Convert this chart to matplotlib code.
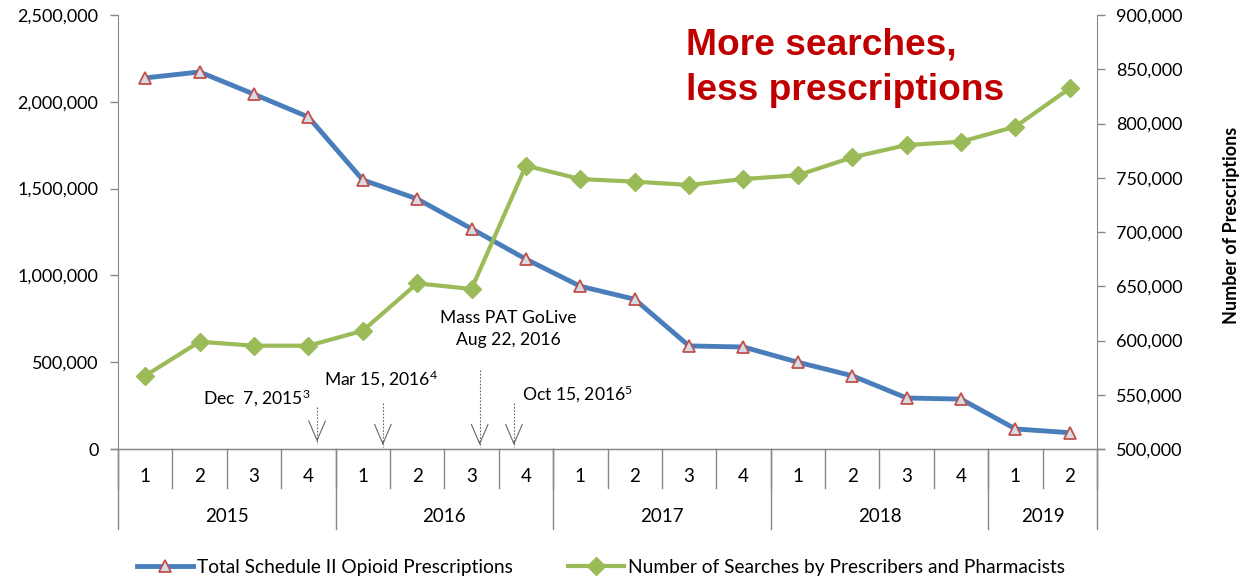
import numpy as np
import matplotlib.pyplot as plt
from matplotlib.ticker import FuncFormatter
import matplotlib.transforms as mtransforms

plt.rcParams['font.family'] = ['Lato', 'DejaVu Sans']
plt.rcParams['mathtext.fontset'] = 'custom'
plt.rcParams['mathtext.rm'] = 'Lato'
plt.rcParams['mathtext.default'] = 'rm'

# data
years = ['2015', '2016', '2017', '2018', '2019']
quarters_per_year = [4, 4, 4, 4, 2]
quarters = ['1', '2', '3', '4'] * 4 + ['1', '2']
prescriptions = [842000, 847500, 827000, 806000, 748000, 730500, 703000, 675000, 650000,
                 638000, 595000, 594000, 580000, 567500, 547000, 546000, 518500, 515000]
searches = [422000, 618000, 595000, 595000, 681000, 954000, 922000, 1632000, 1555000,
            1540000, 1521000, 1555000, 1577000, 1680000, 1751000, 1770000, 1857000, 2078000]
events = ['Dec  7, 2015$^3$', 'Mar 15, 2016$^4$', 'Mass PAT GoLive\nAug 22, 2016', 'Oct 15, 2016$^5$']
event_pos = [3.16, 4.37, 6.15, 6.78]

axis_col = '#888888'
blue = '#4A7EBB'
green = '#9BBB59'

fig = plt.figure(figsize=(12.39, 5.78), dpi=100)
ax = fig.add_axes([118/1239, 1-449/578, (1097-118)/1239, 434/578])
ax2 = ax.twinx()

x = np.arange(len(quarters))
ax.plot(x, searches, color=green, lw=3, marker='D', ms=9, mec=green, mfc=green,
        label='Number of Searches by Prescribers and Pharmacists', zorder=3)
ax2.plot(x, prescriptions, color=blue, lw=3.5, marker='^', ms=8, mec='#C0504D', mfc='#D6DCE5',
         mew=1.3, label='Total Schedule II Opioid Prescriptions', zorder=3)

ax.set_zorder(ax2.get_zorder() + 1)
ax.patch.set_visible(False)

ax.set_xlim(-0.5, len(quarters) - 0.5)
ax.set_ylim(0, 2500000)
ax2.set_ylim(500000, 900000)
ax.set_yticks(np.arange(0, 2500001, 500000))
ax2.set_yticks(np.arange(500000, 900001, 50000))
fmt = FuncFormatter(lambda v, p: f'{int(v):,}')
ax.yaxis.set_major_formatter(fmt)
ax2.yaxis.set_major_formatter(fmt)

for a in (ax, ax2):
    for s in a.spines.values():
        s.set_color(axis_col)
    a.spines['top'].set_visible(False)
    a.tick_params(axis='y', colors=axis_col, labelcolor='black', labelsize=13, length=6, width=1)
ax.spines['right'].set_visible(False)
ax2.spines['left'].set_visible(False)
ax2.spines['bottom'].set_visible(False)
ax.tick_params(axis='y', pad=8)
ax2.tick_params(axis='y', pad=8)

# category axis (two levels)
ax.set_xticks(x)
ax.set_xticklabels(quarters, fontsize=13.5)
ax.tick_params(axis='x', length=0, pad=14)
trans = mtransforms.blended_transform_factory(ax.transData, ax.transAxes)
q_low = -(488 - 449) / 434
y_low = -(529 - 449) / 434
for b in range(len(quarters) + 1):
    ax.plot([b - 0.5, b - 0.5], [0, q_low], color=axis_col, lw=1, transform=trans, clip_on=False)
start = 0
for yr, n in zip(years, quarters_per_year):
    ax.plot([start - 0.5, start - 0.5], [0, y_low], color=axis_col, lw=1, transform=trans, clip_on=False)
    ax.text(start + (n - 1) / 2, -(517 - 449) / 434, yr, transform=trans, ha='center', va='center', fontsize=13.5)
    start += n
ax.plot([start - 0.5, start - 0.5], [0, y_low], color=axis_col, lw=1, transform=trans, clip_on=False)
ax.plot([-0.62, len(quarters) - 0.38], [0, 0], color=axis_col, lw=1, transform=trans, clip_on=False)

# event arrows
arrow_tops = [242000, 265000, 455000, 265000]
arrow_tips = [20000, 0, 0, 0]
for xp, yt, yb in zip(event_pos, arrow_tops, arrow_tips):
    ax.plot([xp, xp], [yt, yb + 10000], color='#666666', lw=0.8, ls=(0, (1.5, 1.5)))
    ax.annotate('', xy=(xp, yb + 6000), xytext=(xp, yb + 60000),
                arrowprops=dict(arrowstyle='->,head_length=0.7,head_width=0.3', color='#666666', lw=0.8,
                                mutation_scale=20))
ax.text(2.06, 294000, events[0], ha='center', va='center', fontsize=12.6)
ax.text(4.33, 403000, events[1], ha='center', va='center', fontsize=12.6)
ax.text(6.67, 690000, events[2], ha='center', va='center', fontsize=12.6, linespacing=1.45)
ax.text(7.95, 317000, events[3], ha='center', va='center', fontsize=12.6)

fig.text(686/1239, 1-55/578, 'More searches,', color='#C00000', fontsize=26.7, fontweight='bold',
         family='Liberation Sans', ha='left', va='baseline')
fig.text(686/1239, 1-100/578, 'less prescriptions', color='#C00000', fontsize=26.7, fontweight='bold',
         family='Liberation Sans', ha='left', va='baseline')

fig.text(1232/1239, 1-225/578, 'Number of Prescriptions', rotation=90, fontsize=13, fontweight='bold',
         ha='center', va='center')

h1, l1 = ax2.get_legend_handles_labels()
h2, l2 = ax.get_legend_handles_labels()
fig.legend(h1 + h2, l1 + l2, loc='center', bbox_to_anchor=(601/1239, 1-567/578), ncol=2, frameon=False,
           fontsize=13.8, handlelength=2.9, numpoints=1, columnspacing=2.9, handletextpad=0.2)

fig.savefig('out.png', dpi=100)
